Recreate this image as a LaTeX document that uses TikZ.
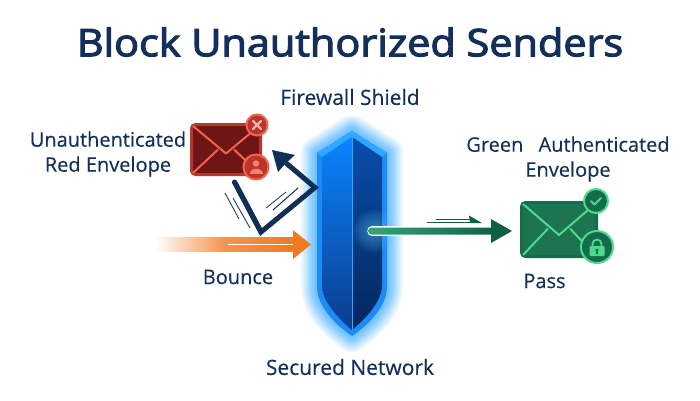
\documentclass[tikz,border=0pt]{standalone}
\usepackage{fontspec}
\setmainfont{Open Sans}
\newfontfamily\capfont[FakeBold=0.3]{Open Sans}
\newfontfamily\headfont[FakeBold=3,FakeStretch=1.09]{Open Sans}
\usetikzlibrary{calc}
\definecolor{navy}{HTML}{12305A}
\definecolor{arrownavy}{HTML}{0F2F57}
\definecolor{orangeA}{HTML}{F07A22}
\definecolor{glowblue}{HTML}{2FA8FF}
\definecolor{rimblue}{HTML}{1E8BF5}
\definecolor{leftTop}{HTML}{0A84FF}
\definecolor{leftBottom}{HTML}{0B3C8C}
\definecolor{rightTop}{HTML}{084EAC}
\definecolor{rightBottom}{HTML}{05265C}
\definecolor{redrim}{HTML}{BA352B}
\definecolor{redbody}{HTML}{6E1616}
\definecolor{redline}{HTML}{F2624C}
\definecolor{greenrim}{HTML}{146C4C}
\definecolor{greenbody}{HTML}{1C7450}
\definecolor{greenline}{HTML}{4FD98A}
\definecolor{greenarrowA}{HTML}{35A578}
\definecolor{greenarrowB}{HTML}{0F5F46}
\tikzset{
  caption/.style={text=navy,font=\capfont\fontsize{20}{25}\selectfont,align=center,inner sep=0pt},
  bigcaption/.style={caption,font=\capfont\fontsize{21}{25}\selectfont},
  heading/.style={text=navy,font=\headfont\fontsize{38}{46}\selectfont,inner sep=0pt},
  redmail/.style={draw=redrim,line width=3pt,fill=redbody,rounded corners=4pt,minimum width=69pt,minimum height=50pt,inner sep=0pt},
  greenmail/.style={draw=greenrim,line width=3pt,fill=greenbody,rounded corners=4pt,minimum width=75pt,minimum height=54pt,inner sep=0pt},
  redbadge/.style={circle,draw=redline,line width=2pt,fill=redrim,inner sep=0pt},
  greenbadge/.style={circle,draw=greenline,line width=2pt,fill=greenrim,inner sep=0pt},
  flap/.style={line width=2pt,line join=round},
  streak/.style={arrownavy,line width=.8pt},
}
\begin{document}
\begin{tikzpicture}[x=1pt,y=-1pt]
\useasboundingbox (0,0) rectangle (700,400);
\fill[white] (0,0) rectangle (700,400);

% Text
\node[heading] (title) at (350,42) {Block Unauthorized Senders};
\node[bigcaption] (fw) at (350,97) {Firewall Shield};
\node[caption] (redlabel) at (108,154) {Unauthenticated\\Red Envelope};
\node[caption] (greenlabel) at (568,159) {Green\hspace{.5em} Authenticated\\Envelope};
\node[caption] (bounce) at (238,277) {Bounce};
\node[caption] (pass) at (544.5,281) {Pass};
\node[bigcaption] (net) at (350,367) {Secured Network};

% Shield outline and its glow
\def\shieldouter{(352,131) -- (387,153) -- (387,287) .. controls (387,307) and (367,326) .. (352,336) .. controls (337,326) and (317,307) .. (317,287) -- (317,153) -- cycle}
\foreach \w in {32,29,26,23,20,18,16,14,12,10,8,6,4,2}{
  \draw[glowblue,line width=\w pt,line join=round,opacity=.075] \shieldouter;
}
\fill[rimblue] \shieldouter;
\fill[glowblue] (352,131) -- (387,153) -- (382,157) -- (352,137) -- (322,157) -- (317,153) -- cycle;
\shade[top color=leftTop,bottom color=leftBottom]
  (352,137) -- (322,157) -- (322,285) .. controls (322,302) and (339,319) .. (352,330) -- cycle;
\shade[top color=rightTop,bottom color=rightBottom]
  (352,137) -- (382,157) -- (382,285) .. controls (382,302) and (365,319) .. (352,330) -- cycle;
\draw[glowblue,line width=.7pt] (352,137) -- (352,330);

% Bright spot where the passing arrow leaves the shield
\foreach \r in {22,21,...,4}{
  \fill[cyan!60!white,opacity=.03] (374,231) circle (\r pt);
}

% Bounced path
\coordinate (bstart) at (234.5,182);
\coordinate (bfoot) at (261,232);
\coordinate (bknee) at (315,187.5);
\coordinate (btip) at (272,150);
\draw[arrownavy,line width=5pt,line cap=round,miter limit=10] (bstart) -- (bfoot);
\draw[arrownavy,line width=5pt,miter limit=10] (bstart) -- (bfoot) -- (bknee) -- (286,163);
\fill[arrownavy] (btip) -- (295,155) -- (286,163) -- (278,172) -- cycle;
\draw[streak] (225,193) -- (239,219);
\draw[streak] (233,198) -- (250,228);
\draw[streak] (266,208) -- (286,192);
\draw[streak,line width=1pt] (273,210) -- (298,188);

% Incoming orange arrow
\coordinate (otip) at (311,244.5);
\shade[left color=white,right color=orangeA,middle color=orangeA!80!white]
  (155,237.5) rectangle (294,251.5);
\fill[orangeA] (293,230) -- (otip) -- (293,259) -- cycle;
\draw[white,line width=1.5pt] (228,244.5) -- (293,244.5);

% Red envelope
\node[redmail] (redenv) at (226,149.5) {};
\draw[redline,flap] (redenv.north west) ++(3,3) -- ($(redenv.center)+(0,4)$) -- ($(redenv.north east)+(-3,3)$);
\draw[redline,flap] (redenv.south west) ++(3,-3) -- ($(redenv.center)+(-8,0)$);
\draw[redline,flap] (redenv.south east) ++(-3,-3) -- ($(redenv.center)+(8,0)$);
\node[redbadge,minimum size=21pt] (xbadge) at (257,125) {};
\draw[redline!50!white,line width=2.2pt,line cap=round] ($(xbadge)+(-4,-4)$) -- ($(xbadge)+(4,4)$);
\draw[redline!50!white,line width=2.2pt,line cap=round] ($(xbadge)+(4,-4)$) -- ($(xbadge)+(-4,4)$);
\node[redbadge,minimum size=25pt] (userbadge) at (256,167) {};
\fill[redline!80!white] ($(userbadge)+(0,-3.5)$) circle (3.2pt);
\fill[redline!80!white] ($(userbadge)+(-6.5,6.5)$) .. controls ($(userbadge)+(-6.5,0)$) and ($(userbadge)+(6.5,0)$) .. ($(userbadge)+(6.5,6.5)$) -- cycle;

% Passing green arrow
\coordinate (gstart) at (372,231);
\coordinate (gtip) at (512,231);
\draw[white,line width=9.5pt,line cap=round] (gstart) -- (494,231);
\shade[left color=greenarrowA,right color=greenarrowB,rounded corners=3pt] (368.5,227.5) rectangle (497,234.5);
\fill[greenarrowB] (491,219) -- (gtip) -- (491,243) -- cycle;
\fill[greenarrowB] (469,215.5) -- (482,223) -- (470,223) -- cycle;
\draw[greenarrowB,line width=1.1pt] (427,222.4) -- (472,222.4);
\draw[greenarrowB,line width=.8pt] (436,219) -- (470,219);

% Green envelope
\node[greenmail] (greenenv) at (559,229.5) {};
\draw[greenline,flap] (greenenv.north west) ++(3,3) -- ($(greenenv.center)+(0,5.5)$) -- ($(greenenv.north east)+(-3,3)$);
\draw[greenline,flap] (greenenv.south west) ++(3,-3) -- ($(greenenv.center)+(-11,-1)$);
\draw[greenline,flap] (greenenv.south east) ++(-3,-3) -- ($(greenenv.center)+(11,-1)$);
\node[greenbadge,minimum size=24pt] (checkbadge) at (596,201) {};
\draw[greenline,line width=2pt,line cap=round,line join=round] ($(checkbadge)+(-5,0)$) -- ($(checkbadge)+(-1.5,3.5)$) -- ($(checkbadge)+(5,-3)$);
\node[greenbadge,minimum size=32pt] (lockbadge) at (597,247) {};
\draw[greenline,line width=1.8pt] ($(lockbadge)+(-4.5,0)$) -- ($(lockbadge)+(-4.5,-3)$) arc[start angle=180,end angle=0,radius=4.5pt] -- ($(lockbadge)+(4.5,0)$);
\fill[greenline,rounded corners=1pt] ($(lockbadge)+(-7.5,-1)$) rectangle ($(lockbadge)+(7.5,9)$);
\fill[greenrim] ($(lockbadge)+(0,3)$) circle (1.6pt);
\fill[greenrim] ($(lockbadge)+(-.8,3)$) rectangle ($(lockbadge)+(.8,6.5)$);
\end{tikzpicture}
\end{document}
